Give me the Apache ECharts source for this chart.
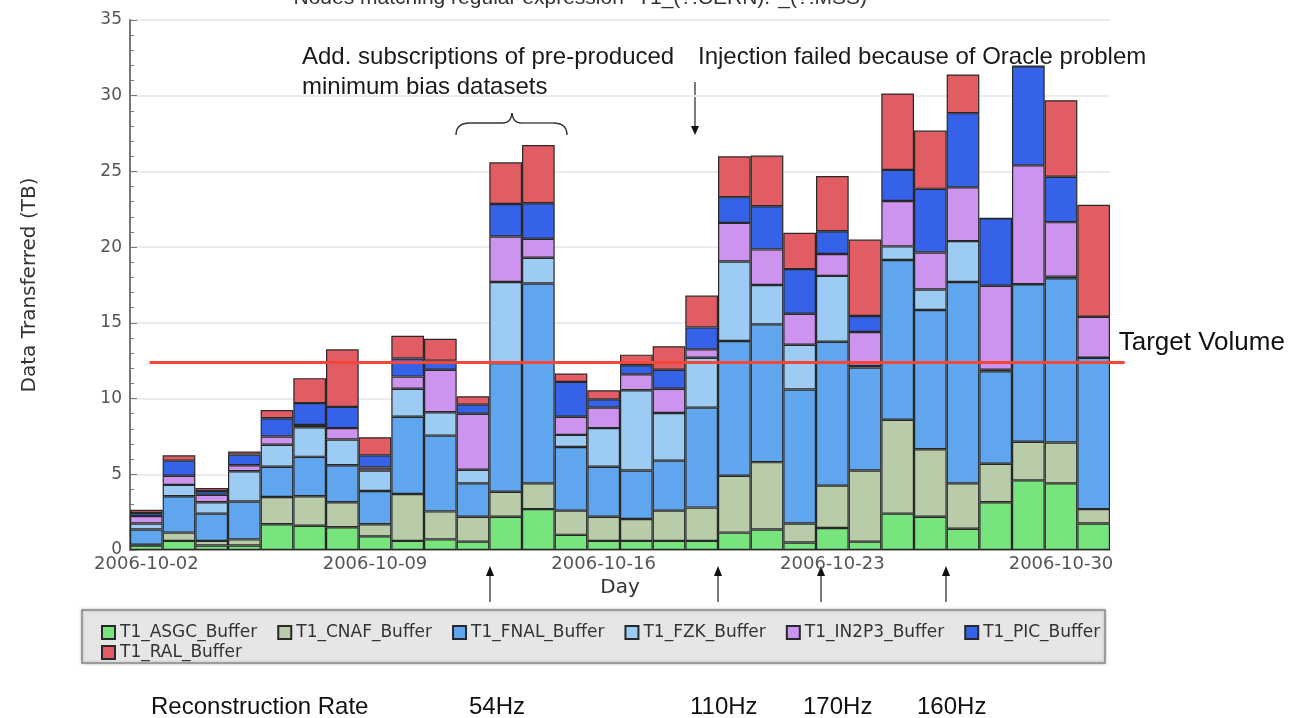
<!DOCTYPE html>
<html>
<head>
<meta charset="utf-8">
<title>T1 data transferred</title>
<script src="https://cdn.jsdelivr.net/npm/echarts@6/dist/echarts.min.js"></script>
<style>
html, body { margin: 0; padding: 0; background: #fff; }
#chart { width: 1300px; height: 718px; }
</style>
</head>
<body>
<div id="chart"></div>
<script>
var days = ['2006-10-02','2006-10-03','2006-10-04','2006-10-05','2006-10-06','2006-10-07','2006-10-08',
	'2006-10-09','2006-10-10','2006-10-11','2006-10-12','2006-10-13','2006-10-14','2006-10-15',
	'2006-10-16','2006-10-17','2006-10-18','2006-10-19','2006-10-20','2006-10-21','2006-10-22',
	'2006-10-23','2006-10-24','2006-10-25','2006-10-26','2006-10-27','2006-10-28','2006-10-29',
	'2006-10-30','2006-10-31'];

var nodeNames = ['T1_ASGC_Buffer','T1_CNAF_Buffer','T1_FNAL_Buffer','T1_FZK_Buffer','T1_IN2P3_Buffer','T1_PIC_Buffer','T1_RAL_Buffer'];
var nodeColors = ['#78e47e','#b9cca9','#5fa6ef','#9ccbf3','#cc93ef','#3562e8','#e25c63'];

// TB per day
var asgc  = [0.3,0.6,0.3,0.3,1.7,1.6,1.5,0.9,0.6,0.7,0.55,2.2,2.7,1.0,0.6,0.6,0.6,0.6,1.15,1.35,0.5,1.45,0.55,2.4,2.2,1.4,3.15,4.6,4.4,1.75];
var cnaf  = [0.05,0.55,0.3,0.4,1.8,1.95,1.65,0.8,3.1,1.85,1.65,1.65,1.7,1.6,1.6,1.45,2.0,2.2,3.75,4.45,1.25,2.8,4.7,6.2,4.45,3.0,2.55,2.55,2.7,0.95];
var fnal  = [1.0,2.4,1.8,2.5,2.0,2.6,2.45,2.2,5.1,5.0,2.2,8.5,13.2,4.2,3.3,3.2,3.3,6.6,8.9,9.1,8.85,9.5,6.8,10.55,9.2,13.3,6.1,10.4,10.85,10.0];
var fzk   = [0.4,0.75,0.75,2.0,1.45,1.95,1.7,1.35,1.85,1.55,0.9,5.35,1.7,0.8,2.55,5.3,3.15,3.3,5.25,2.6,2.95,4.35,0.1,0.9,1.35,2.7,0.1,0,0.1,0];
var in2p3 = [0.5,0.6,0.5,0.4,0.55,0.15,0.75,0.2,0.8,2.8,3.7,3.0,1.25,1.2,1.35,1.05,1.6,0.55,2.55,2.35,2.05,1.45,2.25,3.0,2.45,3.55,5.55,7.85,3.6,2.7];
var pic   = [0.2,1.0,0.25,0.7,1.2,1.45,1.4,0.8,1.2,0.6,0.6,2.15,2.35,2.3,0.55,0.6,1.25,1.45,1.7,2.85,2.95,1.5,1.05,2.05,4.2,4.9,4.45,6.55,3.0,0];
var ral   = [0.2,0.35,0.2,0.2,0.55,1.65,3.8,1.2,1.5,1.45,0.55,2.75,3.85,0.55,0.6,0.7,1.55,2.1,2.7,3.35,2.4,3.65,5.05,5.05,3.85,2.55,0,0,5.05,7.4];

var targetVolume = 12.4;
var targetFrom = 0.6, targetTo = 30.45;   // in days from the first bar's left edge
var rateLabels = ['54Hz','110Hz','170Hz','160Hz'];

var lineStyle = {stroke: '#333', lineWidth: 1.3};

function upArrow(x) {
	return [
		{type: 'line', shape: {x1: x, y1: 602, x2: x, y2: 573}, style: lineStyle},
		{type: 'polygon', shape: {points: [[x - 4, 576], [x + 4, 576], [x, 566]]}, style: {fill: '#111'}}
	];
}

function curve(x1, y1, cx, cy, x2, y2) {
	return {type: 'bezierCurve', shape: {x1: x1, y1: y1, cpx1: cx, cpy1: cy, x2: x2, y2: y2},
		style: {stroke: '#333', lineWidth: 1.4, fill: null}};
}

function createChart() {
	var myChart = echarts.init(document.getElementById('chart'));
	var allData = [asgc, cnaf, fnal, fzk, in2p3, pic, ral];
	var series = [];
	for (var i = 0; i < nodeNames.length; i++) {
		series.push({
			name: nodeNames[i],
			type: 'bar',
			stack: 'all',
			barCategoryGap: '0%',
			data: allData[i],
			itemStyle: {color: nodeColors[i], borderColor: '#282828', borderWidth: 1.2},
			emphasis: {disabled: true}
		});
	}
	// target line lives on a second, slightly wider grid so it can run past the last bar
	series.push({
		name: 'target',
		type: 'line',
		xAxisIndex: 1,
		yAxisIndex: 1,
		data: [],
		z: 20,
		markLine: {
			silent: true,
			symbol: 'none',
			lineStyle: {color: '#f4473c', width: 3, type: 'solid', opacity: 1},
			label: {
				show: true, position: 'end', distance: 0, offset: [-6, -19],
				formatter: 'Target Volume', color: '#111',
				fontFamily: 'Liberation Sans', fontSize: 26
			},
			data: [[{coord: [targetFrom, targetVolume]}, {coord: [targetTo, targetVolume]}]]
		}
	});

	var graphics = [
		{type: 'rect', z: 0, shape: {x: 82, y: 610, width: 1023, height: 53},
			style: {fill: '#e6e6e6', stroke: '#8a8a8a', lineWidth: 1.5, shadowBlur: 3, shadowColor: 'rgba(0,0,0,0.25)'}},
		{type: 'text', style: {text: 'Nodes matching regular expression "T1_(?!CERN).*_(?!MSS)"', x: 584, y: 9,
			align: 'center', verticalAlign: 'bottom', font: '21px "Liberation Sans"', fill: '#333'}},
		{type: 'text', style: {text: 'Add. subscriptions of pre-produced\nminimum bias datasets', x: 302, y: 42,
			font: '24px "Liberation Sans"', lineHeight: 30, fill: '#1a1a1a'}},
		{type: 'text', style: {text: 'Injection failed because of Oracle problem', x: 698, y: 42,
			font: '24px "Liberation Sans"', lineHeight: 30, fill: '#1a1a1a'}},
		{type: 'line', shape: {x1: 695, y1: 82, x2: 695, y2: 128}, style: lineStyle},
		{type: 'polygon', shape: {points: [[691, 126], [699, 126], [695, 135]]}, style: {fill: '#111'}},
		// curly brace over the two pre-produced days
		curve(456, 135, 456, 123, 470, 123),
		{type: 'line', shape: {x1: 470, y1: 123, x2: 503, y2: 123}, style: lineStyle},
		curve(503, 123, 511, 123, 512, 113),
		curve(512, 113, 513, 123, 521, 123),
		{type: 'line', shape: {x1: 521, y1: 123, x2: 553, y2: 123}, style: lineStyle},
		curve(553, 123, 567, 123, 567, 135),
		{type: 'text', style: {text: 'Reconstruction Rate', x: 151, y: 707, verticalAlign: 'middle',
			font: '24px "Liberation Sans"', fill: '#111'}}
	];
	var arrowX = [490, 718, 821, 946];
	var rateX = [469, 690, 803, 917];
	for (var k = 0; k < arrowX.length; k++) {
		graphics = graphics.concat(upArrow(arrowX[k]));
		graphics.push({type: 'text', style: {text: rateLabels[k], x: rateX[k], y: 707, verticalAlign: 'middle',
			font: '24px "Liberation Sans"', fill: '#111'}});
	}

	var legendText = {fontFamily: 'DejaVu Sans', fontSize: 17, color: '#333'};
	var option = {
		animation: false,
		grid: [
			{left: 130, right: 190, top: 20, bottom: 168},
			// 30.6 days at the same day width (980 / 30 px)
			{left: 130, width: 30.6 * 980 / 30, top: 20, bottom: 168}
		],
		legend: [
			{data: nodeNames.slice(0, 6), left: 96, top: 619, z: 10, icon: 'rect', itemWidth: 13, itemHeight: 13,
				itemGap: 20, textStyle: legendText, selectedMode: false},
			{data: nodeNames.slice(6), left: 96, top: 639, z: 10, icon: 'rect', itemWidth: 13, itemHeight: 13,
				textStyle: legendText, selectedMode: false}
		],
		xAxis: [
			{
				type: 'category',
				data: days,
				name: 'Day',
				nameLocation: 'middle',
				nameGap: 28,
				nameTextStyle: {fontFamily: 'DejaVu Sans', fontSize: 20, color: '#333'},
				axisLine: {lineStyle: {color: '#888', width: 1.5}},
				axisTick: {show: false},
				axisLabel: {interval: 6, margin: 5, fontFamily: 'DejaVu Sans', fontSize: 18, color: '#555'}
			},
			{type: 'value', gridIndex: 1, min: 0, max: 30.6, show: false}
		],
		yAxis: [
			{
				type: 'value',
				min: 0,
				max: 35,
				interval: 5,
				name: 'Data Transferred (TB)',
				nameLocation: 'middle',
				nameGap: 90,
				nameTextStyle: {fontFamily: 'DejaVu Sans', fontSize: 20, color: '#333'},
				axisLine: {show: true, lineStyle: {color: '#777', width: 2}},
				axisTick: {show: true, inside: true, length: 7, lineStyle: {color: '#777'}},
				minorTick: {show: true, splitNumber: 5, length: 4, lineStyle: {color: '#777'}},
				splitLine: {lineStyle: {color: '#ececec', width: 2}},
				axisLabel: {margin: 8, fontFamily: 'DejaVu Sans', fontSize: 17, color: '#555'}
			},
			{type: 'value', gridIndex: 1, min: 0, max: 35, show: false}
		],
		graphic: graphics,
		series: series
	};
	myChart.setOption(option);
}

createChart();
</script>
</body>
</html>
